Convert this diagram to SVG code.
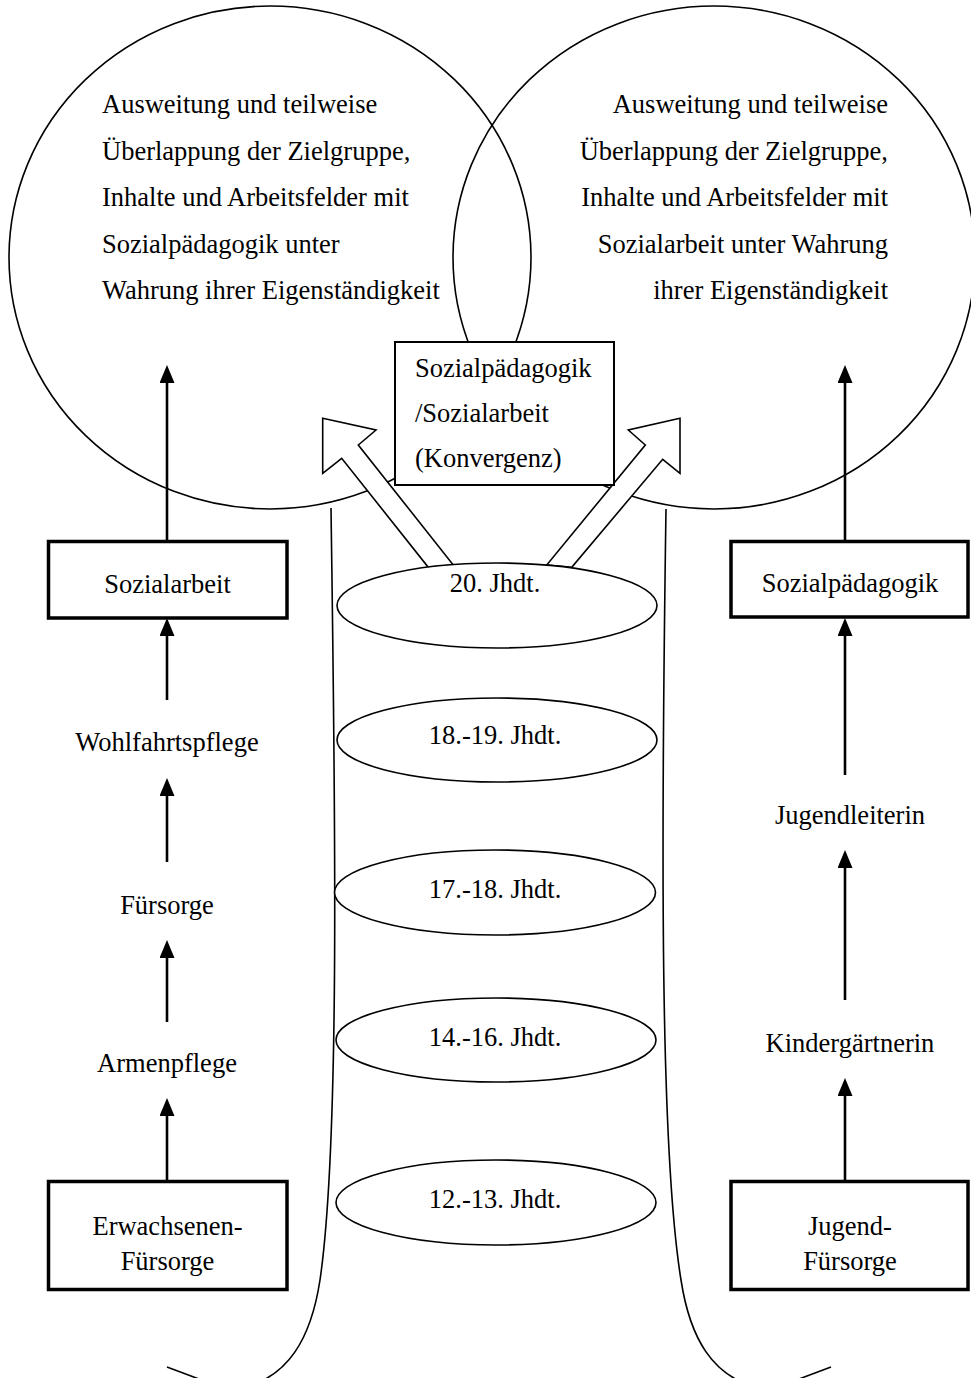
<svg xmlns="http://www.w3.org/2000/svg" width="971" height="1378" viewBox="0 0 971 1378">
<style>
text{font-family:"Liberation Serif","Times New Roman",serif;font-size:26.5px;fill:#000}
.c{text-anchor:middle}
.r{text-anchor:end}
.ring{fill:none;stroke:#000;stroke-width:1.6}
.thin{fill:#fff;stroke:#000;stroke-width:1.6}
.box{fill:#fff;stroke:#000;stroke-width:3.5}
.cbox{fill:#fff;stroke:#000;stroke-width:2}
.conn{fill:none;stroke:#000;stroke-width:2.6}
.curve{fill:none;stroke:#000;stroke-width:1.6}
</style>
<defs>
<marker id="ah" markerUnits="userSpaceOnUse" markerWidth="18" markerHeight="15" viewBox="0 0 18 15" refX="2" refY="7.5" orient="auto">
<path d="M0,0 L18,7.5 L0,15 Z" fill="#000"/>
</marker>
</defs>

<g id="tube">
<path class="curve" d="M331,508 C336,850 339,1150 320,1280 C310,1345 285,1372 255,1384"/>
<path class="curve" d="M167,1367 L215,1385"/>
<path class="curve" d="M666,509 C661,850 660,1150 681,1280 C691,1345 716,1372 746,1384"/>
<path class="curve" d="M831,1367 L783,1385"/>
</g>

<g id="circle-left">
<ellipse class="ring" cx="270" cy="257.5" rx="261" ry="251.5"/>
<text x="102" y="113">Ausweitung und teilweise</text>
<text x="102" y="159.5">Überlappung der Zielgruppe,</text>
<text x="102" y="206">Inhalte und Arbeitsfelder mit</text>
<text x="102" y="252.5">Sozialpädagogik unter</text>
<text x="102" y="299">Wahrung ihrer Eigenständigkeit</text>
</g>

<g id="circle-right">
<ellipse class="ring" cx="714" cy="257.5" rx="261" ry="251.5"/>
<text class="r" x="888" y="113">Ausweitung und teilweise</text>
<text class="r" x="888" y="159.5">Überlappung der Zielgruppe,</text>
<text class="r" x="888" y="206">Inhalte und Arbeitsfelder mit</text>
<text class="r" x="888" y="252.5">Sozialarbeit unter Wahrung</text>
<text class="r" x="888" y="299">ihrer Eigenständigkeit</text>
</g>

<g id="connectors">
<line class="conn" x1="167" y1="541" x2="167" y2="381" marker-end="url(#ah)"/>
<line class="conn" x1="167" y1="700" x2="167" y2="634" marker-end="url(#ah)"/>
<line class="conn" x1="167" y1="862" x2="167" y2="794" marker-end="url(#ah)"/>
<line class="conn" x1="167" y1="1022" x2="167" y2="956" marker-end="url(#ah)"/>
<line class="conn" x1="167" y1="1181" x2="167" y2="1114" marker-end="url(#ah)"/>
<line class="conn" x1="845" y1="541" x2="845" y2="381" marker-end="url(#ah)"/>
<line class="conn" x1="845" y1="775" x2="845" y2="634" marker-end="url(#ah)"/>
<line class="conn" x1="845" y1="1000" x2="845" y2="866" marker-end="url(#ah)"/>
<line class="conn" x1="845" y1="1181" x2="845" y2="1094" marker-end="url(#ah)"/>
<polygon id="arrow-left" class="thin" points="322.7,418.3 376,430 358.3,445 453.3,565 428.3,567.3 341.7,458.3 322.7,473.3"/>
<polygon id="arrow-right" class="thin" points="680,418.3 628.3,430 645.3,445 546.7,565 571.7,567.3 662.7,459.3 680,473.3"/>
</g>

<g id="konvergenz">
<rect class="cbox" x="395" y="342" width="219" height="143"/>
<text x="415" y="377">Sozialpädagogik</text>
<text x="415" y="422">/Sozialarbeit</text>
<text x="415" y="467">(Konvergenz)</text>
</g>

<g id="era-20">
<ellipse class="thin" cx="497" cy="605.5" rx="160" ry="42.5"/>
<text class="c" x="495" y="592">20. Jhdt.</text>
</g>
<g id="era-18-19">
<ellipse class="thin" cx="497" cy="740" rx="160" ry="42"/>
<text class="c" x="495" y="744">18.-19. Jhdt.</text>
</g>
<g id="era-17-18">
<ellipse class="thin" cx="495" cy="892.5" rx="160.5" ry="42.5"/>
<text class="c" x="495" y="898">17.-18. Jhdt.</text>
</g>
<g id="era-14-16">
<ellipse class="thin" cx="496" cy="1040" rx="160" ry="42"/>
<text class="c" x="495" y="1046">14.-16. Jhdt.</text>
</g>
<g id="era-12-13">
<ellipse class="thin" cx="496" cy="1202.5" rx="160" ry="42.5"/>
<text class="c" x="495" y="1208">12.-13. Jhdt.</text>
</g>

<g id="sozialarbeit">
<rect class="box" x="48.5" y="541.5" width="238.5" height="76.5"/>
<text class="c" x="167.5" y="593">Sozialarbeit</text>
</g>
<g id="wohlfahrtspflege"><text class="c" x="167" y="751">Wohlfahrtspflege</text></g>
<g id="fuersorge"><text class="c" x="167" y="914">Fürsorge</text></g>
<g id="armenpflege"><text class="c" x="167" y="1072">Armenpflege</text></g>
<g id="erwachsenen-fuersorge">
<rect class="box" x="48.5" y="1181.5" width="238.5" height="108"/>
<text class="c" x="167.5" y="1235">Erwachsenen-</text>
<text class="c" x="167.5" y="1270">Fürsorge</text>
</g>

<g id="sozialpaedagogik">
<rect class="box" x="731" y="541.5" width="237" height="75.5"/>
<text class="c" x="850" y="592">Sozialpädagogik</text>
</g>
<g id="jugendleiterin"><text class="c" x="850" y="824">Jugendleiterin</text></g>
<g id="kindergaertnerin"><text class="c" x="850" y="1052">Kindergärtnerin</text></g>
<g id="jugend-fuersorge">
<rect class="box" x="731" y="1181.5" width="237" height="108"/>
<text class="c" x="850" y="1235">Jugend-</text>
<text class="c" x="850" y="1270">Fürsorge</text>
</g>
</svg>
